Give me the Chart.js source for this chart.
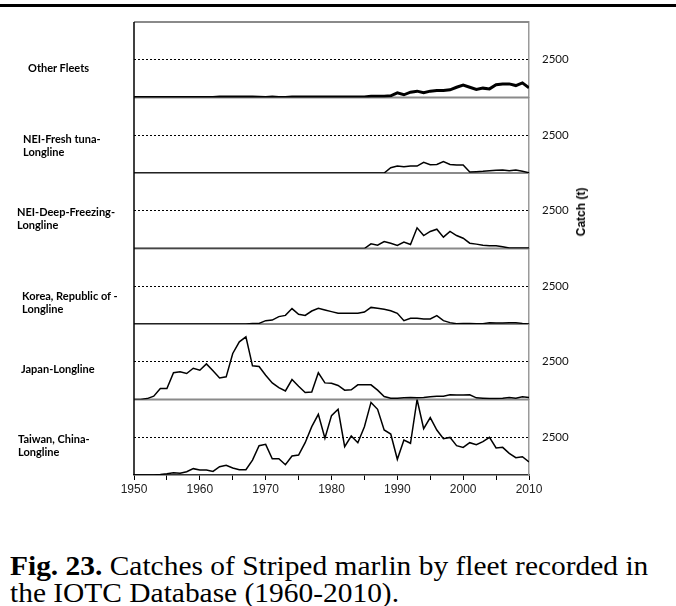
<!DOCTYPE html>
<html>
<head>
<meta charset="utf-8">
<script src="https://cdn.jsdelivr.net/npm/chart.js@4.4.1/dist/chart.umd.min.js"></script>
<style>
  html, body { margin: 0; padding: 0; background: #fff; }
  body { width: 676px; height: 606px; position: relative; overflow: hidden; }
  #topRule { position: absolute; left: 0; top: 4px; width: 676px; height: 3px; background: #000; }
  #wrap { position: absolute; left: 0; top: 0; width: 676px; height: 510px; }
  .fleet { position: absolute; font: bold 11px Lato, "Open Sans", sans-serif; line-height: 12.5px; color: #000; white-space: nowrap; }
  #ytitle { position: absolute; left: 581px; top: 212px; transform: translate(-50%, -50%) rotate(-90deg);
            font: bold 12px "Liberation Sans", Arial, sans-serif; white-space: nowrap; }
  #caption { position: absolute; left: 10px; top: 553px; font: 27px "Liberation Serif", "Times New Roman", serif;
             line-height: 27px; color: #000; white-space: nowrap; transform: scaleX(1.09); transform-origin: 0 0; }
</style>
</head>
<body>
<div id="topRule"></div>
<div id="wrap"><canvas id="chart" width="676" height="510"></canvas></div>
<div class="fleet" style="left:28px;top:62px">Other Fleets</div>
<div class="fleet" style="left:23px;top:133px">NEI-Fresh tuna-<br>Longline</div>
<div class="fleet" style="left:17px;top:206px">NEI-Deep-Freezing-<br>Longline</div>
<div class="fleet" style="left:22px;top:290px">Korea, Republic of -<br>Longline</div>
<div class="fleet" style="left:21px;top:363px">Japan-Longline</div>
<div class="fleet" style="left:18px;top:433px">Taiwan, China-<br>Longline</div>
<div id="ytitle">Catch (t)</div>
<div id="caption"><b>Fig. 23.</b> Catches of Striped marlin by fleet recorded in<br>the IOTC Database (1960-2010).</div>

<script>
const years = [
  1950, 1951, 1952, 1953, 1954, 1955, 1956, 1957, 1958, 1959,
  1960, 1961, 1962, 1963, 1964, 1965, 1966, 1967, 1968, 1969,
  1970, 1971, 1972, 1973, 1974, 1975, 1976, 1977, 1978, 1979,
  1980, 1981, 1982, 1983, 1984, 1985, 1986, 1987, 1988, 1989,
  1990, 1991, 1992, 1993, 1994, 1995, 1996, 1997, 1998, 1999,
  2000, 2001, 2002, 2003, 2004, 2005, 2006, 2007, 2008, 2009, 2010
];

// catch (t) per fleet
const otherFleets = [
  0, 0, 0, 0, 0, 0, 0, 0, 0, 0,
  0, 0, 0, 40, 40, 40, 40, 40, 40, 20,
  0, 30, 0, 0, 40, 40, 40, 40, 40, 40,
  40, 40, 40, 40, 40, 40, 90, 90, 90, 110,
  310, 180, 350, 420, 310, 420, 460, 460, 510, 680,
  820, 680, 530, 620, 570, 840, 900, 900, 790, 970, 640
];
const neiFresh = [
  0, 0, 0, 0, 0, 0, 0, 0, 0, 0,
  0, 0, 0, 0, 0, 0, 0, 0, 0, 0,
  0, 0, 0, 0, 0, 0, 0, 0, 0, 0,
  0, 0, 0, 0, 0, 0, 0, 0, 0, 350,
  460, 420, 460, 460, 710, 550, 570, 750, 570, 530,
  530, 70, 90, 110, 150, 180, 200, 150, 200, 110, 20
];
const neiDeepFreezing = [
  0, 0, 0, 0, 0, 0, 0, 0, 0, 0,
  0, 0, 0, 0, 0, 0, 0, 0, 0, 0,
  0, 0, 0, 0, 0, 0, 0, 0, 0, 0,
  0, 0, 0, 0, 0, 0, 310, 220, 460, 350,
  200, 420, 260, 1370, 860, 1130, 1280, 750, 1130, 860,
  680, 350, 290, 220, 180, 180, 110, 40, 40, 40, 40
];
const korea = [
  0, 0, 0, 0, 0, 0, 0, 0, 0, 0,
  0, 0, 0, 0, 0, 0, 0, 0, 40, 40,
  220, 260, 490, 570, 1020, 640, 570, 860, 1040, 930,
  820, 710, 710, 710, 710, 790, 1100, 1040, 970, 880,
  710, 220, 380, 380, 330, 330, 550, 220, 90, 20,
  40, 40, 20, 20, 90, 70, 70, 90, 90, 40, 0
];
const japan = [
  0, 0, 60, 220, 730, 730, 1770, 1830, 1720, 2070,
  1940, 2360, 1900, 1430, 1500, 3050, 3820, 4150, 2230, 2190,
  1610, 1100, 790, 570, 1320, 880, 460, 490, 1770, 1100,
  1080, 930, 620, 640, 970, 970, 970, 620, 200, 90,
  90, 110, 130, 110, 130, 180, 220, 220, 310, 290,
  290, 310, 110, 90, 70, 70, 90, 130, 90, 180, 130
];
const taiwan = [
  0, 0, 0, 0, 40, 90, 150, 110, 220, 420,
  330, 330, 240, 550, 640, 460, 350, 350, 990, 1940,
  2030, 1080, 1080, 680, 1260, 1320, 2140, 3200, 4020, 2430,
  3930, 4350, 1880, 2580, 2140, 3200, 4810, 4350, 2980, 2710,
  1040, 2320, 2100, 5000, 3070, 3800, 2980, 2400, 2490, 1940,
  1830, 2140, 2010, 2210, 2490, 1790, 1830, 1430, 1150, 1210, 860
];

const fleets = [
  { id: 'yOther', label: 'Other Fleets', data: otherFleets, width: 3 },
  { id: 'yFresh', label: 'NEI-Fresh tuna-Longline', data: neiFresh, width: 1.5 },
  { id: 'yDeep', label: 'NEI-Deep-Freezing-Longline', data: neiDeepFreezing, width: 1.5 },
  { id: 'yKorea', label: 'Korea, Republic of -Longline', data: korea, width: 1.5 },
  { id: 'yJapan', label: 'Japan-Longline', data: japan, width: 1.5 },
  { id: 'yTaiwan', label: 'Taiwan, China-Longline', data: taiwan, width: 1.5 }
];

const scales = {
  x: {
    type: 'linear',
    min: 1950,
    max: 2010,
    ticks: {
      stepSize: 5,
      autoSkip: false,
      maxRotation: 0,
      padding: 2,
      color: '#222',
      font: { family: '"Liberation Sans", Arial, sans-serif', size: 12 },
      callback: (v) => (v % 10 === 0 ? String(v) : '')
    },
    grid: { drawOnChartArea: false, drawTicks: true, tickLength: 5, tickColor: '#000', tickWidth: 1 },
    border: { color: '#333', width: 1.5 },
    afterFit: (s) => { s.height = 35; }
  }
};

// one stacked panel per fleet; right-hand boxes are laid out by ascending weight from the top
fleets.forEach((f, i) => {
  scales[f.id] = {
    type: 'linear',
    position: 'right',
    stack: 'fleets',
    stackWeight: 1,
    weight: i + 1,
    min: 0,
    max: 5000,
    afterBuildTicks: (s) => { s.ticks = [{ value: 2500 }]; },
    ticks: {
      padding: 13,
      color: '#111',
      font: { family: 'Lato, "Open Sans", sans-serif', size: 11.5 },
      callback: (v) => String(v)
    },
    grid: { color: '#000', lineWidth: 1, drawTicks: false },
    border: { color: '#9a9a9a', width: 1.5, dash: [2, 2] },
    afterFit: (s) => { s.width = 147; }
  };
});

const panelFrame = {
  id: 'panelFrame',
  beforeDatasetsDraw(chart) {
    const { ctx, chartArea } = chart;
    ctx.save();
    ctx.strokeStyle = '#8a8a8a';
    ctx.lineWidth = 2;
    fleets.forEach((f) => {
      const s = chart.scales[f.id];
      ctx.beginPath();
      ctx.moveTo(chartArea.left, s.top);
      ctx.lineTo(chartArea.right, s.top);
      ctx.stroke();
    });
    ctx.restore();
  },
  afterDraw(chart) {
    const { ctx, chartArea } = chart;
    ctx.save();
    ctx.strokeStyle = '#000';
    ctx.lineWidth = 1.5;
    ctx.beginPath();
    ctx.moveTo(chartArea.left, chartArea.top);
    ctx.lineTo(chartArea.left, chartArea.bottom);
    ctx.stroke();
    ctx.restore();
  }
};

new Chart(document.getElementById('chart').getContext('2d'), {
  type: 'line',
  data: {
    labels: years,
    datasets: fleets.map((f) => ({
      label: f.label,
      data: f.data,
      yAxisID: f.id,
      borderColor: '#000',
      borderWidth: f.width,
      pointRadius: 0,
      tension: 0,
      fill: false
    }))
  },
  options: {
    responsive: false,
    animation: false,
    devicePixelRatio: 1,
    layout: { padding: { left: 134, top: 22, right: 0, bottom: 0 } },
    plugins: { legend: { display: false }, tooltip: { enabled: false } },
    scales: scales
  },
  plugins: [panelFrame]
});
</script>
</body>
</html>
